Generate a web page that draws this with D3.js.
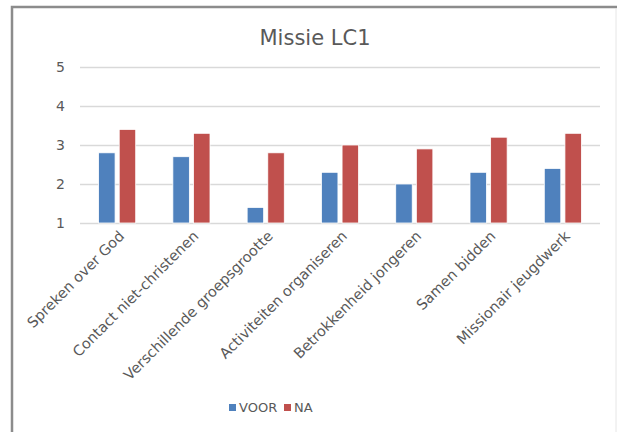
<!DOCTYPE html>
<html>
<head>
<meta charset="utf-8">
<script src="https://cdnjs.cloudflare.com/ajax/libs/d3/7.8.5/d3.min.js"></script>
<style>
  body { margin: 0; background: #fff; }
  svg text { font-family: "DejaVu Sans", Verdana, sans-serif; fill: #595959; }
  .grid line { stroke: #d9d9d9; stroke-width: 1.3; }
</style>
</head>
<body>
<script>
var categories = ["Spreken over God", "Contact niet-christenen", "Verschillende groepsgrootte",
  "Activiteiten organiseren", "Betrokkenheid jongeren", "Samen bidden", "Missionair jeugdwerk"];
var voor = [2.8, 2.7, 1.4, 2.3, 2.0, 2.3, 2.4];
var na = [3.4, 3.3, 2.8, 3.0, 2.9, 3.2, 3.3];
var yTicks = [1, 2, 3, 4, 5];
var seriesNames = ["VOOR", "NA"];
var colors = ["#4f81bd", "#c0504d"];

var width = 617,
    height = 432;

var svg = d3.select("body").append("svg")
    .attr("width", width)
    .attr("height", height);

// chart frame
svg.append("rect")
    .attr("x", 12).attr("y", 7)
    .attr("width", 616).attr("height", 440)
    .attr("fill", "#fff")
    .attr("stroke", "#8c8c8c")
    .attr("stroke-width", 2.5);
svg.append("line")
    .attr("x1", 616).attr("x2", 616).attr("y1", 9).attr("y2", height)
    .attr("stroke", "#e6e6e6").attr("stroke-width", 1);

var margin = {left: 80, right: 17, top: 67, bottom: 209};

var x = d3.scaleBand()
    .domain(categories)
    .range([margin.left, width - margin.right])
    .paddingInner(0.5)
    .paddingOuter(0.25);

var x1 = d3.scaleBand()
    .domain(seriesNames)
    .range([0, x.bandwidth()])
    .paddingInner(0.2);

var y = d3.scaleLinear()
    .domain([1, 5])
    .range([height - margin.bottom, margin.top]);

svg.append("text")
    .attr("x", 315).attr("y", 45)
    .attr("text-anchor", "middle")
    .style("font-size", "21px")
    .text("Missie LC1");

// gridlines + y labels
var yAxis = svg.append("g")
    .attr("class", "grid")
    .attr("transform", "translate(" + margin.left + ",0)")
    .call(d3.axisLeft(y).tickValues(yTicks).tickFormat(d3.format("d"))
      .tickSize(-(width - margin.right - margin.left)).tickPadding(15));
yAxis.select(".domain").remove();
yAxis.selectAll(".tick text")
    .attr("dy", "0.35em")
    .style("font-size", "14px");

// bars
var data = categories.map(function(c, i) { return {cat: c, vals: [voor[i], na[i]]}; });

var groups = svg.selectAll(".group")
    .data(data)
    .enter().append("g")
    .attr("transform", function(d) { return "translate(" + x(d.cat) + ",0)"; });

groups.selectAll("rect")
    .data(function(d) { return d.vals.map(function(v, j) { return {name: seriesNames[j], v: v, j: j}; }); })
    .enter().append("rect")
    .attr("x", function(d) { return x1(d.name); })
    .attr("y", function(d) { return y(d.v); })
    .attr("width", x1.bandwidth())
    .attr("height", function(d) { return y(1) - y(d.v); })
    .attr("fill", function(d) { return colors[d.j]; })
    .attr("stroke", "#fff")
    .attr("stroke-width", 0.8);

// category labels
var xAxis = svg.append("g")
    .attr("transform", "translate(0," + y(1) + ")")
    .call(d3.axisBottom(x).tickSize(0).tickPadding(0));
xAxis.select(".domain").remove();
xAxis.selectAll(".tick text")
    .attr("text-anchor", "end")
    .attr("dy", 0)
    .style("font-size", "14.5px")
    .attr("transform", "translate(8,14) rotate(-45)");

// legend
var legend = svg.append("g").attr("transform", "translate(229,404)");
var legItems = legend.selectAll("g")
    .data(seriesNames)
    .enter().append("g")
    .attr("transform", function(d, i) { return "translate(" + (i * 55) + ",0)"; });
legItems.append("rect")
    .attr("width", 7).attr("height", 7)
    .attr("fill", function(d, i) { return colors[i]; });
legItems.append("text")
    .attr("x", 10).attr("y", 8)
    .style("font-size", "13px")
    .text(function(d) { return d; });
</script>
</body>
</html>
